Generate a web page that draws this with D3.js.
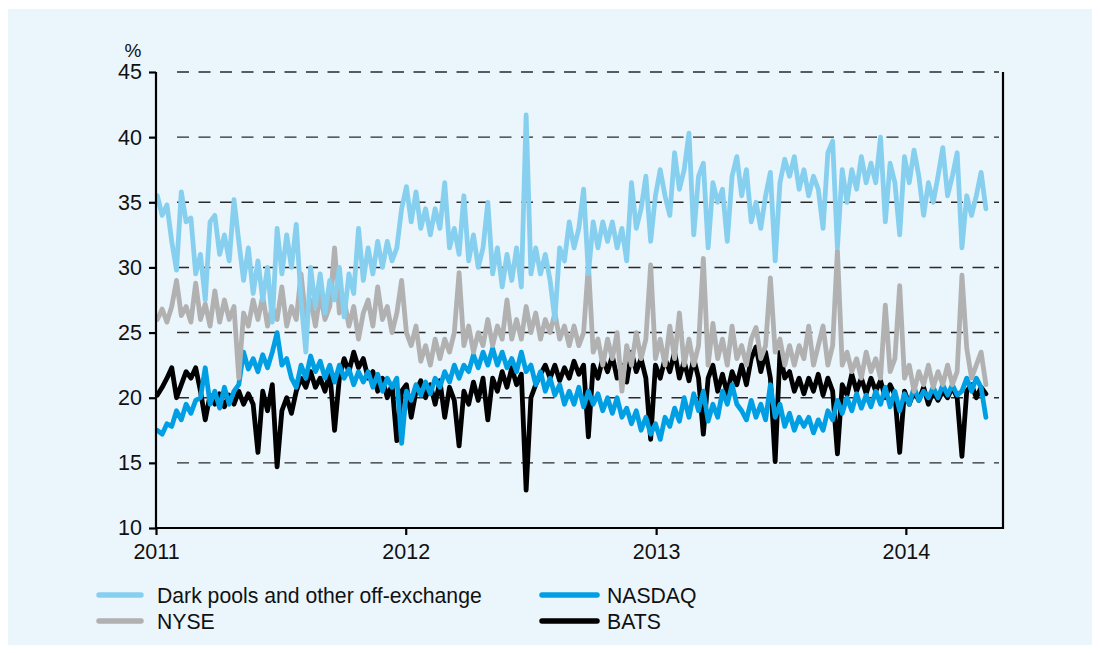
<!DOCTYPE html>
<html>
<head>
<meta charset="utf-8">
<script src="https://cdn.jsdelivr.net/npm/d3@7"></script>
<style>
  body { margin: 0; background: #ffffff; }
  svg { font-family: "Liberation Sans", Arial, sans-serif; }
</style>
</head>
<body>
<div id="svg-area"></div>
<script>
// Weekly readings, first week of Jan 2011 to end of Apr 2014 (% of US equity volume)
var darkPools = [
  35.5, 34, 34.8, 32, 29.8, 35.8, 33.5, 33.8, 29.5, 31,
  27.5, 33.5, 34, 31, 32.5, 30.5, 35.2, 32, 29, 31.5,
  28, 30.5, 27.5, 30, 25.8, 33, 29.5, 32.5, 30, 33.3,
  27.5, 23.5, 30, 27, 29.5, 26.5, 29, 27.5, 30, 26.2,
  29.5, 28, 33, 29, 31.5, 29.5, 32, 30, 32, 30.5,
  31.5, 34.5, 36.2, 33.5, 35.8, 33, 34.5, 32.5, 34.5, 33,
  36.5, 31.5, 33, 31, 35.5, 30.5, 32.5, 30, 31.5, 35,
  29.5, 31.5, 28.5, 31, 29, 31.5, 28.5, 41.7, 29.5, 31.5,
  29.5, 31, 29, 26, 31.5, 30.5, 33.5, 31.5, 33, 36,
  29.5, 33.5, 31.5, 33.5, 32, 33.5, 31.5, 33, 30.5, 36.5,
  33, 34.5, 37, 32, 35.5, 37.5, 35.5, 34, 38.8, 36,
  37.5, 40.3, 32.5, 37, 38, 31.5, 36.5, 35, 36, 32,
  37, 38.5, 35.5, 37.5, 33.5, 35, 33, 35.5, 37.3, 30.5,
  36.5, 38.3, 37, 38.5, 36, 37.5, 35.5, 37, 36, 33,
  38.8, 39.7, 31.5, 37.5, 35, 37.5, 36, 38.5, 36.5, 38,
  36.5, 40, 33.5, 38, 36.5, 32.5, 38.5, 36.5, 39, 37,
  34, 36.5, 35, 37, 39.2, 35.5, 37, 38.8, 31.5, 35.5,
  34, 35.5, 37.3, 34.5
];

var nyse = [
  26, 26.8, 25.8, 27, 29, 26.3, 27, 25.8, 28.8, 26,
  27.2, 25.5, 28.2, 25.8, 27.5, 26, 27, 21.5, 26.5, 25.5,
  27.5, 26, 27.8, 25.5, 27, 26, 28.5, 25.5, 27, 26,
  29.5, 26, 27.5, 25.5, 28, 26, 27, 31.5, 26.5, 27.5,
  25.5, 27, 24.5, 26.5, 27.5, 25.5, 28.5, 26, 27, 25,
  26.5, 29, 25, 24, 25.5, 22.8, 24, 22.5, 24.5, 23,
  24.5, 23.5, 25, 29.6, 24, 25.5, 23.5, 25, 24, 26,
  24, 25.5, 24.5, 27.5, 24.5, 26, 24.5, 27, 25, 26.5,
  24.5, 26, 25, 26.5, 24.5, 25.5, 24, 25.5, 24, 25,
  30.2, 23.5, 24.5, 22.5, 24.5, 23, 25, 20.5, 24, 22.5,
  25, 23, 24.5, 30.2, 23, 24.5, 22.5, 25.5, 23, 26.5,
  22.5, 24.5, 22.5, 24, 30.7, 22.5, 25.7, 23, 24.5, 22.5,
  25.5, 23, 24, 22.5, 24.5, 25.4, 23, 24, 29.2, 23.5,
  24.5, 22.5, 24, 22.5, 24, 23, 25.5, 22.5, 24, 25.5,
  22.5, 24, 31.3, 22.5, 23.5, 22, 23, 21.5, 23.5, 22,
  23, 21.5, 27.1, 22, 23, 28.6, 21.5, 22.5, 20.5, 22,
  21, 22.5, 20.8, 22, 21, 22.5, 21, 22, 29.4, 23.8,
  21.5, 22.5, 23.5, 21
];

var nasdaq = [
  17.5, 17.2, 18, 17.8, 19, 18.3, 19.5, 18.8, 19.8, 20,
  22.3, 19.5, 20.5, 19.2, 20.8, 19.5, 20.5, 21, 23.5, 22.2,
  23, 22, 23.3, 22.3, 23.5, 25, 22.5, 23, 21.5, 20.8,
  22.5, 21.5, 23.2, 22, 22.8, 21.5, 22.5, 21.2, 22.5, 21.5,
  22.2, 21, 22, 21.2, 22, 20.8, 21.8, 20.5, 21.5, 20.8,
  21.5, 16.5, 20.5, 19.8, 21, 20.2, 21.2, 20.3, 21.5, 20.8,
  22, 21.2, 22.5, 21.5, 22.5, 22, 23.3, 22.3, 23.5, 22.5,
  23.8, 22.5, 23.5, 22.3, 23, 22, 23.5, 22, 22.5, 21,
  22, 20.5, 21.5, 20.2, 21, 19.5, 20.5, 19.5, 20.8, 19.3,
  20.5, 19.5, 20.3, 19, 20, 18.8, 20, 18.5, 19.2, 18,
  19, 17.5, 18.5, 17.2, 18, 16.8, 18.5, 17.8, 19.2, 18.2,
  20, 18.5, 20.3, 19, 20.5, 18.2, 19.5, 18.5, 20.5, 19.5,
  21, 19.5, 19, 18.3, 19.8, 18.5, 19.5, 18.3, 21, 18.5,
  19.5, 17.8, 18.8, 17.5, 18.5, 17.8, 18.5, 17.3, 18.3, 17.5,
  19, 18.3, 19.8, 18.8, 20, 19, 20.3, 19.2, 20.2, 19.3,
  20.5, 19.5, 20.8, 19.3, 20.5, 19, 20.3, 19.5, 20.8, 19.8,
  20.5, 20, 20.8, 20, 21, 20.2, 21, 20.2, 20.5, 21.5,
  20.5, 21.5, 20.8, 18.5
];

var bats = [
  20.2, 20.8, 21.5, 22.3, 20, 21, 22, 21.5, 22.3, 20.5,
  18.3, 20.2, 19.5, 20.3, 19.3, 20.2, 19.5, 20.5, 19.5, 20.3,
  19.5, 15.8, 20.5, 19, 21, 14.7, 19, 20, 18.8, 20.5,
  21.5, 20.8, 22, 20.8, 21.5, 20.5, 22, 17.5, 21.5, 23,
  22, 23.5, 22.3, 23, 21.5, 22, 20.5, 21.5, 20, 21,
  16.7, 20.5, 21, 18.5, 20.5, 21.3, 20, 21, 19.5, 21.3,
  18.5, 20.8, 19.8, 16.3, 20.5, 19.5, 21.2, 19.8, 21.5, 18.3,
  21.5, 20.5, 22, 20.8, 22.3, 21, 21.8, 12.9, 20, 21,
  21.8, 22.5, 21.5, 22.5, 21.3, 22.3, 21.5, 22.8, 21.8, 22.5,
  17, 22.5, 21.5, 23, 22, 23.2, 21.5, 22.5, 21.2, 23.5,
  22, 23, 21.5, 16.8, 22.5, 21.5, 23, 22, 23.5, 21.5,
  22.8, 21.3, 23, 21.5, 17.2, 21.5, 22.5, 20.5, 21.8, 20.3,
  22, 21, 22.5, 21, 23, 23.9, 22, 23.5, 21.5, 15.1,
  23.5, 21.5, 22, 20.5, 21.5, 20.3, 21.5, 20.5, 21.8, 20.2,
  21.5, 20.5, 15.7, 21, 20.2, 21.8, 20.5, 21.5, 20.3, 21.5,
  20.5, 21.3, 20, 21, 20.2, 15.8, 20.5, 19.5, 20.5, 19.8,
  20.8, 19.5, 20.5, 19.8, 20.5, 20, 20.8, 20, 15.5, 20.5,
  21, 20, 20.8, 20.3
];

var seriesNames = ["Dark pools and other off-exchange", "NYSE", "NASDAQ", "BATS"];
var yTicks = [10, 15, 20, 25, 30, 35, 40, 45];
var xTickYears = [2011, 2012, 2013, 2014];

// one date per reading, weekly from the first Monday of 2011
var firstWeek = new Date(2011, 0, 3);
var dates = darkPools.map(function(d, i) { return d3.timeWeek.offset(firstWeek, i); });

// SVG area
var svgWidth = 1100;
var svgHeight = 653;

var margin = { top: 72, right: 97, bottom: 125, left: 156 };
var chartWidth = svgWidth - margin.left - margin.right;
var chartHeight = svgHeight - margin.top - margin.bottom;

var svg = d3.select("#svg-area")
  .append("svg")
  .attr("width", svgWidth)
  .attr("height", svgHeight);

// light blue panel
svg.append("rect")
  .attr("x", 8).attr("y", 9)
  .attr("width", 1084).attr("height", 636)
  .attr("fill", "#eaf5fc");

var chartGroup = svg.append("g")
  .attr("transform", `translate(${margin.left}, ${margin.top})`);

// scales
var xTimeScale = d3.scaleTime()
  .domain([new Date(2011, 0, 1), new Date(2014, 4, 23)])
  .range([0, chartWidth]);

var yLinearScale = d3.scaleLinear()
  .domain([10, 45])
  .range([chartHeight, 0]);

// dashed gridlines
chartGroup.append("g")
  .selectAll("line")
  .data(yTicks.filter(d => d > 10))
  .enter()
  .append("line")
  .attr("x1", 21).attr("x2", chartWidth - 4)
  .attr("y1", d => yLinearScale(d)).attr("y2", d => yLinearScale(d))
  .attr("stroke", "#2a2a2a")
  .attr("stroke-width", 1.4)
  .attr("stroke-dasharray", "12,9.5");

// lines, drawn back to front
var lineColours = { "BATS": "#000000", "NASDAQ": "#009fe3", "NYSE": "#b1b1b1", "Dark pools and other off-exchange": "#86cfef" };
var seriesValues = {
  "Dark pools and other off-exchange": darkPools,
  "NYSE": nyse,
  "NASDAQ": nasdaq,
  "BATS": bats
};

var line = d3.line()
  .x((d, i) => xTimeScale(dates[i]))
  .y(d => yLinearScale(d));

["BATS", "NASDAQ", "NYSE", "Dark pools and other off-exchange"].forEach(function(name) {
  chartGroup.append("path")
    .datum(seriesValues[name])
    .attr("d", line)
    .attr("fill", "none")
    .attr("stroke", lineColours[name])
    .attr("stroke-width", 4.8)
    .attr("stroke-linejoin", "round")
    .attr("stroke-linecap", "round");
});

// axes
var leftAxis = d3.axisLeft(yLinearScale)
  .tickValues(yTicks)
  .tickSize(7)
  .tickPadding(7);

var bottomAxis = d3.axisBottom(xTimeScale)
  .tickValues(xTickYears.map(y => new Date(y, 0, 1)))
  .tickFormat(d3.timeFormat("%Y"))
  .tickSize(7)
  .tickPadding(9);

var yAxisG = chartGroup.append("g").call(leftAxis);
var xAxisG = chartGroup.append("g")
  .attr("transform", `translate(0, ${chartHeight})`)
  .call(bottomAxis);

[yAxisG, xAxisG].forEach(function(g) {
  g.select(".domain").attr("stroke", "#000").attr("stroke-width", 2.2);
  g.selectAll(".tick line").attr("stroke", "#000").attr("stroke-width", 2.2);
  g.selectAll(".tick text")
    .attr("fill", "#111")
    .style("font-size", "21.5px")
    .style("font-family", "'Liberation Sans', Arial, sans-serif");
});
yAxisG.select(".domain").attr("d", `M0,${chartHeight}V0`);
xAxisG.select(".domain").attr("d", `M0,0H${chartWidth}`);

// right frame line
chartGroup.append("line")
  .attr("x1", chartWidth).attr("x2", chartWidth)
  .attr("y1", 0).attr("y2", chartHeight + 1)
  .attr("stroke", "#000").attr("stroke-width", 2.2);

// unit label
svg.append("text")
  .attr("x", 133).attr("y", 57)
  .attr("text-anchor", "middle")
  .attr("fill", "#111")
  .style("font-size", "19px")
  .text("%");

// legend
var legendItems = [
  { name: seriesNames[0], x1: 99, x2: 141, tx: 157, y: 595 },
  { name: seriesNames[1], x1: 99, x2: 141, tx: 157, y: 621 },
  { name: seriesNames[2], x1: 542, x2: 597, tx: 607, y: 595 },
  { name: seriesNames[3], x1: 542, x2: 597, tx: 607, y: 621 }
];

var legend = svg.append("g");
legend.selectAll("line")
  .data(legendItems)
  .enter()
  .append("line")
  .attr("x1", d => d.x1).attr("x2", d => d.x2)
  .attr("y1", d => d.y).attr("y2", d => d.y)
  .attr("stroke", d => lineColours[d.name])
  .attr("stroke-width", 5.5)
  .attr("stroke-linecap", "round");

legend.selectAll("text")
  .data(legendItems)
  .enter()
  .append("text")
  .attr("x", d => d.tx)
  .attr("y", d => d.y + 7.5)
  .attr("fill", "#111")
  .style("font-size", "21.2px")
  .text(d => d.name);
</script>
</body>
</html>
